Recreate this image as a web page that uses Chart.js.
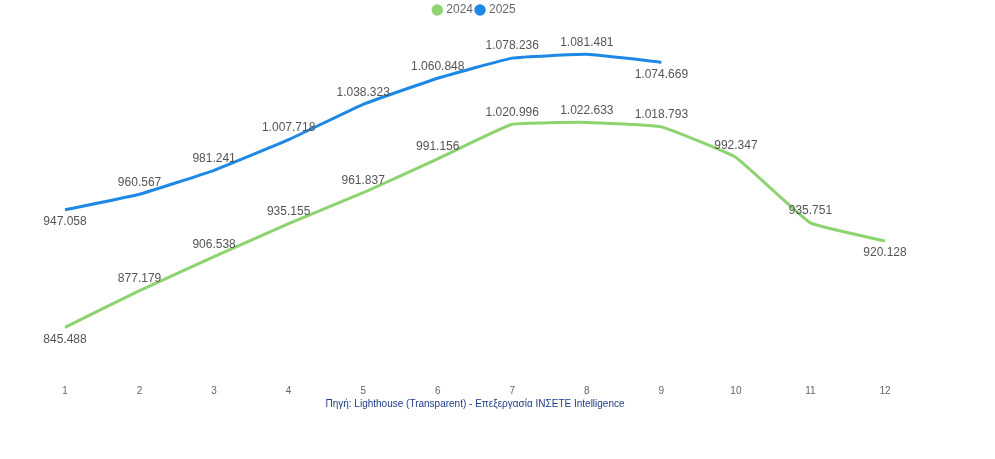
<!DOCTYPE html>
<html>
<head>
<meta charset="utf-8">
<script src="https://cdn.jsdelivr.net/npm/chart.js@4.4.1/dist/chart.umd.min.js"></script>
<style>
  html, body { margin: 0; padding: 0; background: #fff; }
  #wrap { width: 995px; height: 459px; }
</style>
</head>
<body>
<div id="wrap"><canvas id="tourChart"></canvas></div>
<script>
// Chart data
const months = ['1', '2', '3', '4', '5', '6', '7', '8', '9', '10', '11', '12'];
const values2024 = [845488, 877179, 906538, 935155, 961837, 991156, 1020996, 1022633, 1018793, 992347, 935751, 920128];
const values2025 = [947058, 960567, 981241, 1007718, 1038323, 1060848, 1078236, 1081481, 1074669];
// which labels sit under the line instead of above it
const below2024 = [0, 11];
const below2025 = [0, 8];

// Greek style thousands separator
function formatNumber(n) {
  return String(n).replace(/\B(?=(\d{3})+(?!\d))/g, '.');
}

// Simple value labels drawn next to each point
const valueLabels = {
  id: 'valueLabels',
  afterDatasetsDraw(chart) {
    const c = chart.ctx;
    c.save();
    c.font = '12px "Liberation Sans", Arial, sans-serif';
    c.fillStyle = '#555';
    c.textAlign = 'center';
    c.textBaseline = 'middle';
    chart.data.datasets.forEach((ds, i) => {
      const meta = chart.getDatasetMeta(i);
      const below = i === 0 ? below2024 : below2025;
      meta.data.forEach((pt, j) => {
        const dy = below.includes(j) ? 12 : -12;
        c.fillText(formatNumber(ds.data[j]), pt.x, pt.y + dy);
      });
    });
    c.restore();
  }
};

const ctx = document.getElementById('tourChart').getContext('2d');
const tourChart = new Chart(ctx, {
  type: 'line',
  data: {
    labels: months,
    datasets: [{
      label: '2024',
      data: values2024,
      borderColor: '#8dd36f',
      backgroundColor: '#8dd36f',
      borderWidth: 3,
      pointRadius: 0,
      tension: 0.1
    }, {
      label: '2025',
      data: values2025,
      borderColor: '#1e88e5',
      backgroundColor: '#1e88e5',
      borderWidth: 3,
      pointRadius: 0,
      tension: 0.1
    }]
  },
  options: {
    responsive: true,
    maintainAspectRatio: false,
    animation: false,
    layout: { padding: { left: 65, right: 110, top: 0, bottom: 49 } },
    plugins: {
      legend: {
        position: 'top',
        labels: {
          usePointStyle: true,
          pointStyle: 'circle',
          boxWidth: 6,
          boxHeight: 6,
          padding: 4,
          color: '#666',
          font: { family: '"Liberation Sans", Arial, sans-serif', size: 12 }
        }
      },
      tooltip: { enabled: false }
    },
    scales: {
      x: {
        offset: false,
        grid: { display: false },
        border: { display: false },
        ticks: {
          color: '#666',
          padding: 4,
          font: { family: '"Liberation Sans", Arial, sans-serif', size: 10 }
        },
        title: {
          display: true,
          text: 'Πηγή: Lighthouse (Transparent) - Επεξεργασία INΣETE Intelligence',
          color: '#1f3b8c',
          padding: { top: -3, bottom: 0 },
          font: { family: '"Liberation Sans", Arial, sans-serif', size: 10 }
        }
      },
      y: {
        display: false,
        min: 806000,
        max: 1106000
      }
    }
  },
  plugins: [valueLabels]
});
</script>
</body>
</html>
